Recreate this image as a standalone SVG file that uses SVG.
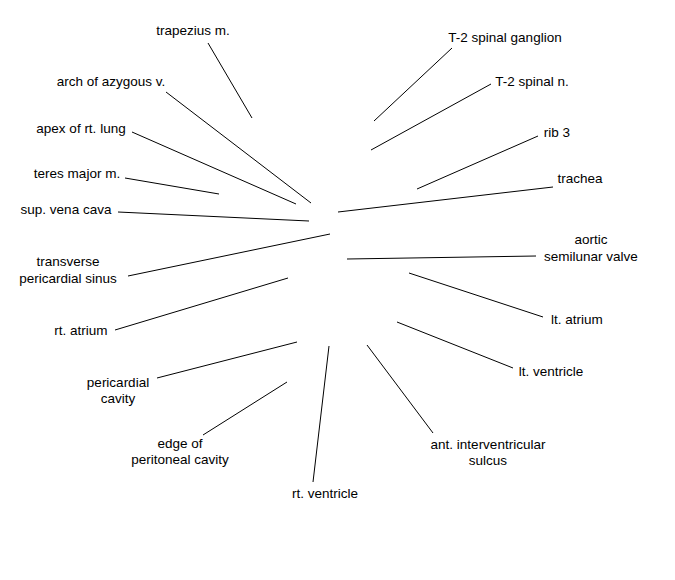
<svg xmlns="http://www.w3.org/2000/svg" width="675" height="580" viewBox="0 0 675 580">
<style>
text{font-family:"Liberation Sans",Arial,sans-serif;font-size:13.5px;fill:#000;text-anchor:middle}
line{stroke:#000;stroke-width:1}
</style>
<rect width="675" height="580" fill="#fff"/>
<g id="connectors">
<line x1="208" y1="43" x2="252" y2="118"/>
<line x1="166" y1="92" x2="311" y2="203"/>
<line x1="132" y1="132" x2="296" y2="204"/>
<line x1="125" y1="178" x2="219" y2="194"/>
<line x1="118" y1="212" x2="309" y2="221"/>
<line x1="128" y1="276" x2="330" y2="234"/>
<line x1="115" y1="330" x2="288" y2="278"/>
<line x1="157" y1="378" x2="297" y2="342"/>
<line x1="203" y1="435" x2="287" y2="382"/>
<line x1="313" y1="482" x2="329" y2="346"/>
<line x1="433" y1="433" x2="367" y2="345"/>
<line x1="513" y1="368" x2="397" y2="322"/>
<line x1="543" y1="317" x2="409" y2="273"/>
<line x1="536" y1="256" x2="347" y2="259"/>
<line x1="553" y1="187" x2="338" y2="212"/>
<line x1="538" y1="136" x2="417" y2="189"/>
<line x1="491" y1="84" x2="371" y2="150"/>
<line x1="452" y1="48" x2="374" y2="121"/>
</g>
<g id="n-trapezius"><text x="193" y="35">trapezius m.</text></g>
<g id="n-azygous"><text x="111" y="86">arch of azygous v.</text></g>
<g id="n-apex"><text x="81" y="133">apex of rt. lung</text></g>
<g id="n-teres"><text x="77" y="178">teres major m.</text></g>
<g id="n-svc"><text x="66" y="214">sup. vena cava</text></g>
<g id="n-transverse"><text x="68" y="266">transverse</text><text x="68" y="283">pericardial sinus</text></g>
<g id="n-ratrium"><text x="81" y="335">rt. atrium</text></g>
<g id="n-pcavity"><text x="118" y="387">pericardial</text><text x="118" y="403">cavity</text></g>
<g id="n-edge"><text x="180" y="448">edge of</text><text x="180" y="464">peritoneal cavity</text></g>
<g id="n-rventricle"><text x="325" y="498">rt. ventricle</text></g>
<g id="n-sulcus"><text x="488" y="449">ant. interventricular</text><text x="488" y="465">sulcus</text></g>
<g id="n-lventricle"><text x="551" y="376">lt. ventricle</text></g>
<g id="n-latrium"><text x="577" y="324">lt. atrium</text></g>
<g id="n-aortic"><text x="591" y="244">aortic</text><text x="591" y="261">semilunar valve</text></g>
<g id="n-trachea"><text x="580" y="183">trachea</text></g>
<g id="n-rib3"><text x="557" y="137">rib 3</text></g>
<g id="n-t2n"><text x="532" y="86">T-2 spinal n.</text></g>
<g id="n-t2g"><text x="505" y="42">T-2 spinal ganglion</text></g>
</svg>
